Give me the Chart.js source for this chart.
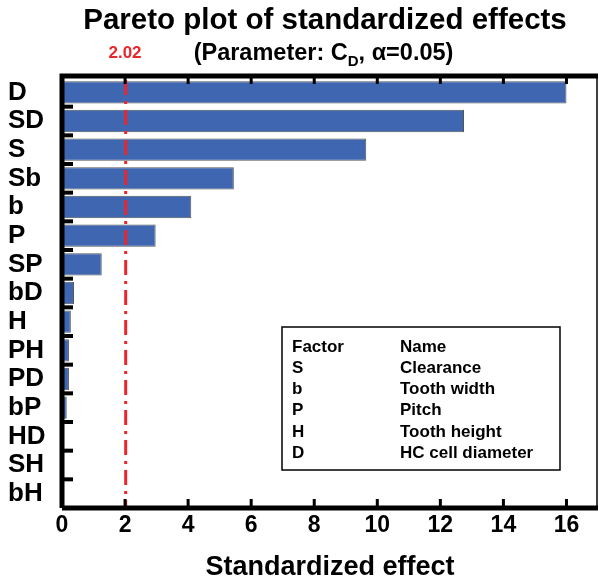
<!DOCTYPE html>
<html>
<head>
<meta charset="utf-8">
<script src="https://cdn.jsdelivr.net/npm/chart.js@4/dist/chart.umd.min.js"></script>
<style>
  html, body { margin: 0; padding: 0; background: #fff; }
  #wrap { width: 600px; height: 581px; position: relative; }
</style>
</head>
<body>
<div id="wrap"><canvas id="pareto"></canvas></div>
<script>
// Data
const factors = ['D', 'SD', 'S', 'Sb', 'b', 'P', 'SP', 'bD', 'H', 'PH', 'PD', 'bP', 'HD', 'SH', 'bH']
const effects = [16.0, 12.75, 9.65, 5.45, 4.1, 2.97, 1.26, 0.38, 0.28, 0.22, 0.22, 0.15, 0.02, 0.01, 0.005]
const xTicks = [0, 2, 4, 6, 8, 10, 12, 14, 16]
const criticalValue = 2.02

const legendFactors = ['S', 'b', 'P', 'H', 'D']
const legendNames = ['Clearance', 'Tooth width', 'Pitch', 'Tooth height', 'HC cell diameter']

const FONT = 'Arial, "Liberation Sans", sans-serif'

// Frame, inward ticks, reference line and text annotations
const decorPlugin = {
  id: 'decor',
  afterDatasetsDraw(chart) {
    const { ctx, chartArea: a, scales: { x, y } } = chart
    ctx.save()

    // red dash-dot line at the critical value
    const xc = x.getPixelForValue(criticalValue)
    ctx.strokeStyle = '#e8262b'
    ctx.lineWidth = 3
    ctx.setLineDash([15, 6, 3, 6])
    ctx.beginPath()
    ctx.moveTo(xc, a.top + 2)
    ctx.lineTo(xc, a.bottom)
    ctx.stroke()
    ctx.setLineDash([])

    // frame
    ctx.strokeStyle = '#000'
    ctx.lineWidth = 5
    ctx.beginPath()
    ctx.moveTo(a.left, a.bottom)
    ctx.lineTo(a.right, a.bottom)
    ctx.moveTo(a.left, a.bottom)
    ctx.lineTo(a.left, a.top - 2)
    ctx.lineTo(a.right, a.top - 2)
    ctx.stroke()
    ctx.lineWidth = 1.5
    ctx.beginPath()
    ctx.moveTo(a.right - 1, a.top - 2)
    ctx.lineTo(a.right - 1, a.bottom)
    ctx.stroke()

    // x ticks, pointing in, bottom and top
    ctx.lineWidth = 3
    xTicks.forEach(v => {
      if (v === 0) return
      const px = x.getPixelForValue(v)
      ctx.beginPath()
      ctx.moveTo(px, a.bottom)
      ctx.lineTo(px, a.bottom - 9)
      ctx.moveTo(px, a.top)
      ctx.lineTo(px, a.top + 6)
      ctx.stroke()
    })

    // y ticks at category boundaries
    ctx.lineWidth = 4
    const step = y.getPixelForValue(1) - y.getPixelForValue(0)
    for (let i = 0; i < factors.length - 1; i++) {
      const py = y.getPixelForValue(i) + step / 2
      ctx.beginPath()
      ctx.moveTo(a.left, py)
      ctx.lineTo(a.left + 11, py)
      ctx.stroke()
    }

    // titles
    ctx.fillStyle = '#000'
    ctx.textAlign = 'center'
    ctx.textBaseline = 'middle'
    ctx.font = 'bold 29.5px ' + FONT
    ctx.fillText('Pareto plot of standardized effects', 325, 21)

    ctx.font = 'bold 23.5px ' + FONT
    const p1 = '(Parameter: C'
    const p2 = ', \u03b1=0.05)'
    const w1 = ctx.measureText(p1).width
    const w2 = ctx.measureText(p2).width
    ctx.font = 'bold 15px ' + FONT
    const ws = ctx.measureText('D').width
    const sx = 323.5 - (w1 + ws + w2) / 2
    ctx.textAlign = 'left'
    ctx.font = 'bold 23.5px ' + FONT
    ctx.fillText(p1, sx, 54)
    ctx.font = 'bold 15px ' + FONT
    ctx.fillText('D', sx + w1, 62)
    ctx.font = 'bold 23.5px ' + FONT
    ctx.fillText(p2, sx + w1 + ws, 54)

    ctx.fillStyle = '#e8262b'
    ctx.textAlign = 'center'
    ctx.font = 'bold 17px ' + FONT
    ctx.fillText(criticalValue.toFixed(2), 125, 53)

    // factor table
    ctx.fillStyle = '#fff'
    ctx.fillRect(282, 327, 278, 143)
    ctx.strokeStyle = '#000'
    ctx.lineWidth = 1.5
    ctx.strokeRect(282, 327, 278, 143)
    ctx.fillStyle = '#000'
    ctx.textAlign = 'left'
    ctx.font = 'bold 17px ' + FONT
    ctx.fillText('Factor', 292, 347)
    ctx.fillText('Name', 400, 347)
    legendFactors.forEach((f, i) => {
      const ty = 368 + i * 21.3
      ctx.fillText(f, 292, ty)
      ctx.fillText(legendNames[i], 400, ty)
    })

    ctx.restore()
  }
}

new Chart(document.getElementById('pareto'), {
  type: 'bar',
  data: {
    labels: factors,
    datasets: [{
      data: effects,
      backgroundColor: '#3f67b1',
      borderColor: '#555',
      borderWidth: 1,
      borderSkipped: false,
      barPercentage: 0.78,
      categoryPercentage: 1
    }]
  },
  options: {
    indexAxis: 'y',
    responsive: true,
    maintainAspectRatio: false,
    animation: false,
    layout: { padding: { top: 78, right: 2, left: 8, bottom: 0 } },
    plugins: {
      legend: { display: false },
      tooltip: { enabled: false }
    },
    scales: {
      x: {
        min: 0,
        max: 17,
        afterBuildTicks: s => { s.ticks = xTicks.map(v => ({ value: v })) },
        afterFit: s => { s.height = 73 },
        grid: { display: false },
        border: { display: false },
        ticks: {
          color: '#000',
          padding: -4,
          font: { family: FONT, size: 23, weight: 'bold' }
        },
        title: {
          display: true,
          text: 'Standardized effect',
          color: '#000',
          padding: { top: 4, bottom: -3 },
          font: { family: FONT, size: 27, weight: 'bold' }
        }
      },
      y: {
        afterFit: s => { s.width = 54 },
        grid: { display: false },
        border: { display: false },
        ticks: {
          color: '#000',
          autoSkip: false,
          crossAlign: 'far',
          padding: 2,
          font: { family: FONT, size: 26, weight: 'bold' }
        }
      }
    }
  },
  plugins: [decorPlugin]
})
</script>
</body>
</html>
